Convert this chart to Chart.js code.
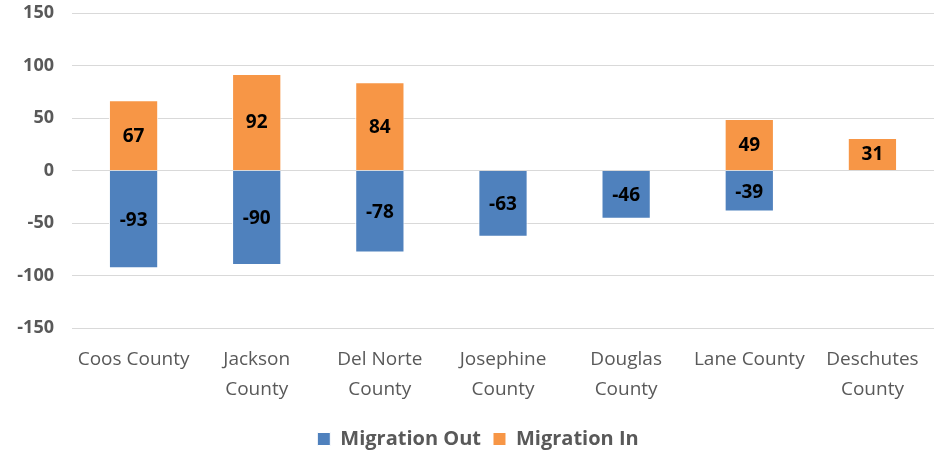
<!DOCTYPE html>
<html>
<head>
<meta charset="utf-8">
<script src="https://cdn.jsdelivr.net/npm/chart.js@4.4.1/dist/chart.umd.min.js"></script>
<style>
  html, body { margin: 0; padding: 0; background: #fff; }
  #wrap { width: 934px; height: 455px; }
</style>
</head>
<body>
<div id="wrap"><canvas id="myChart"></canvas></div>
<script>
const counties = [
	["Coos County"],
	["Jackson", "County"],
	["Del Norte", "County"],
	["Josephine", "County"],
	["Douglas", "County"],
	["Lane County"],
	["Deschutes", "County"]
];
const migrationOut = [-93, -90, -78, -63, -46, -39, null];
const migrationIn = [67, 92, 84, null, null, 49, 31];
const yTicks = [-150, -100, -50, 0, 50, 100, 150];

const fontName = "'Open Sans', 'Liberation Sans', sans-serif";

// numbers inside the bars
const barLabels = {
	id: "barLabels",
	afterDatasetsDraw(chart) {
		const ctx = chart.ctx;
		ctx.save();
		ctx.font = "bold 19px " + fontName;
		ctx.fillStyle = "#000";
		ctx.textAlign = "center";
		ctx.textBaseline = "middle";
		chart.data.datasets.forEach((ds, i) => {
			const meta = chart.getDatasetMeta(i);
			meta.data.forEach((bar, j) => {
				const v = ds.data[j];
				if (v === null || v === 0) return;
				const p = bar.getCenterPoint();
				ctx.fillText(String(v), p.x, p.y + 1);
			});
		});
		ctx.restore();
	}
};

// legend sits a bit right of centre (and a bit lower) in the original
const legendShift = {
	id: "legendShift",
	afterLayout(chart) {
		if (chart.legend) {
			chart.legend.left += 11;
			chart.legend.right += 11;
			chart.legend.top += 4;
			chart.legend.bottom += 4;
		}
	}
};

const ctx = document.getElementById("myChart").getContext("2d");
const myChart = new Chart(ctx, {
	type: "bar",
	data: {
		labels: counties,
		datasets: [
			{
				label: "Migration Out",
				data: migrationOut,
				backgroundColor: "#4F81BD",
				borderColor: "#ffffff",
				borderWidth: 1,
				barPercentage: 0.4,
				categoryPercentage: 1.0,
			},
			{
				label: "Migration In",
				data: migrationIn,
				backgroundColor: "#F79646",
				borderColor: "#ffffff",
				borderWidth: 1,
				barPercentage: 0.4,
				categoryPercentage: 1.0,
			},
		],
	},
	options: {
		responsive: true,
		maintainAspectRatio: false,
		animation: false,
		layout: {
			padding: { top: 13, right: 0, bottom: 0, left: 0 },
		},
		plugins: {
			legend: {
				position: "bottom",
				labels: {
					boxWidth: 13,
					boxHeight: 13,
					padding: 12,
					color: "#595959",
					font: { size: 20, weight: "bold", family: fontName },
				},
			},
			tooltip: { enabled: false },
		},
		scales: {
			x: {
				stacked: true,
				grid: { display: false },
				border: { display: false },
				afterFit(scale) { scale.paddingLeft = 0; scale.paddingRight = 0; },
				ticks: {
					color: "#595959",
					maxRotation: 0,
					autoSkip: false,
					padding: 9,
					font: { size: 19, family: fontName, lineHeight: 1.55 },
				},
			},
			y: {
				stacked: true,
				min: -150,
				max: 150,
				afterFit(scale) {
					scale.width = 72;
					scale.paddingTop = 0;
					scale.paddingBottom = 0;
				},
				afterBuildTicks(scale) {
					scale.ticks = yTicks.map(v => ({ value: v }));
				},
				grid: { color: "#d9d9d9", lineWidth: 1, drawTicks: false },
				border: { display: false },
				ticks: {
					color: "#595959",
					padding: 18,
					font: { size: 18, weight: "bold", family: fontName },
				},
			},
		},
	},
	plugins: [barLabels, legendShift],
});
</script>
</body>
</html>
